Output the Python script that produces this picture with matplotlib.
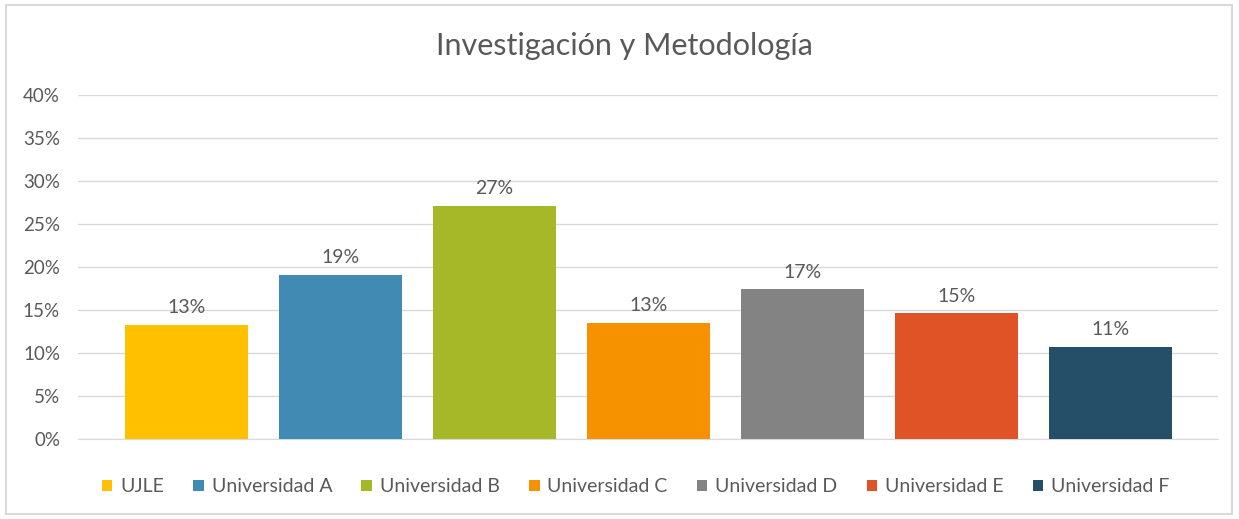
import numpy as np
import matplotlib
matplotlib.use("Agg")
import matplotlib.pyplot as plt
from matplotlib.patches import Rectangle

categories = ["UJLE", "Universidad A", "Universidad B", "Universidad C",
              "Universidad D", "Universidad E", "Universidad F"]
values = [13.3, 19.1, 27.1, 13.5, 17.4, 14.6, 10.7]
labels = ["13%", "19%", "27%", "13%", "17%", "15%", "11%"]
colors = ["#FFC000", "#418AB3", "#A6B727", "#F69200", "#838383", "#DF5327", "#254E68"]
yticks = [0, 5, 10, 15, 20, 25, 30, 35, 40]

plt.rcParams["font.family"] = ["Lato", "DejaVu Sans"]
txt = "#595959"

fig = plt.figure(figsize=(12.39, 5.19), dpi=100)
fig.patches.append(Rectangle((0.005, 0.01), 0.989, 0.98, transform=fig.transFigure,
                             fill=False, edgecolor="#D9D9D9", lw=1.5))
ax = fig.add_axes([0.063, 0.154, 0.920, 0.663])

x = np.arange(len(categories))
bars = ax.bar(x, values, width=0.8, color=colors, zorder=3)
for xi, v, lab in zip(x, values, labels):
    ax.text(xi, v + 1.0, lab, ha="center", va="bottom", fontsize=14, color=txt)

ax.set_ylim(0, 40)
ax.set_xlim(-0.705, 6.698)
ax.set_yticks(yticks)
ax.set_yticklabels([f"{t}%" for t in yticks], fontsize=13.5, color=txt)
ax.set_xticks([])
ax.tick_params(axis="y", length=0, pad=13)
ax.grid(axis="y", color="#D9D9D9", lw=1, zorder=0)
for s in ["top", "right", "left"]:
    ax.spines[s].set_visible(False)
ax.spines["bottom"].set_color("#D9D9D9")

fig.text(0.504, 0.912, "Investigación y Metodología", ha="center", va="center",
         fontsize=22, color=txt)

fig.legend(bars, categories, loc="center", bbox_to_anchor=(0.513, 0.062), ncol=7,
           frameon=False, fontsize=14, labelcolor=txt, handlelength=0.55, handleheight=0.55,
           handletextpad=0.4, columnspacing=1.5)

fig.savefig("out.png", dpi=100)
